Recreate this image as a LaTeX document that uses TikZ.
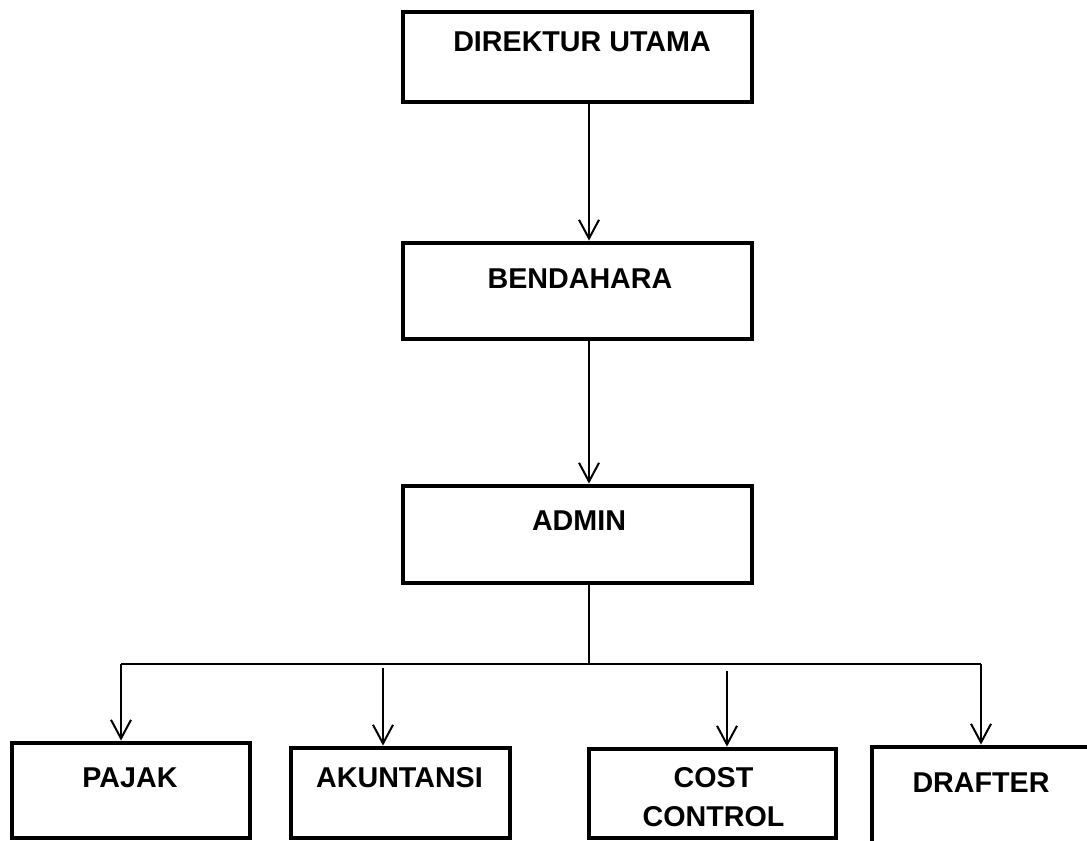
\documentclass[tikz,border=0pt]{standalone}
\usepackage{fontspec}
\setmainfont{Liberation Sans}
\usetikzlibrary{arrows.meta}

\begin{document}
\begin{tikzpicture}[
  x=0.75pt, y=-0.75pt,
  every node/.style={inner sep=0pt, text=black},
  box/.style={draw=black, line width=3.6pt, fill=none, rectangle},
  lbl/.style={font=\fontsize{21.5}{29.25}\selectfont\bfseries, align=center, anchor=base},
  line/.style={draw=black, line width=1.5pt},
  conn/.style={line, -{Straight Barb[length=14pt,width=15pt]}},
]

% page 1087 x 841 px, origin top left
\path[use as bounding box, fill=white] (0,0) rectangle (1087,841);

% boxes: name / centre x / centre y / width / height (px)
\foreach \n/\x/\y/\w/\h in {dirut/577.5/57/349/90, bendahara/577.5/291/349/96,
                            admin/577.5/534.5/349/97, pajak/131/790.5/238/95,
                            akuntansi/400.5/793/219/90, cost/712.5/793.5/247/89,
                            drafter/981/800/218/106}{
  \node[box, minimum width=\w*0.75pt, minimum height=\h*0.75pt] (\n) at (\x,\y) {};
}

% texts sit near the top of each box (two-line text: baseline of last line)
\foreach \n/\x/\y/\t in {dirut/582/52/DIREKTUR UTAMA, bendahara/580/288/BENDAHARA,
                         admin/579/530/ADMIN, pajak/130/787/PAJAK,
                         akuntansi/399.5/787/AKUNTANSI, cost/713.5/826/{COST\\CONTROL},
                         drafter/981/792/DRAFTER}{
  \node[lbl] (t-\n) at (\x,\y) {\t};
}

% spine and bus
\coordinate (spine) at (589,664);
\coordinate (busL) at (121,664);
\coordinate (busR) at (981,664);
\coordinate (akTop) at (383,668);
\coordinate (coTop) at (727,671);

\draw[conn] (spine |- dirut.south) -- (spine |- bendahara.north);
\draw[conn] (spine |- bendahara.south) -- (spine |- admin.north);
\draw[line] (spine |- admin.south) -- (spine);
\draw[line] (busL) -- (busR);
\draw[conn] (busL) -- (busL |- pajak.north);
\draw[conn] (akTop) -- (akTop |- akuntansi.north);
\draw[conn] (coTop) -- (coTop |- cost.north);
\draw[conn] (busR) -- (busR |- drafter.north);

\end{tikzpicture}
\end{document}
